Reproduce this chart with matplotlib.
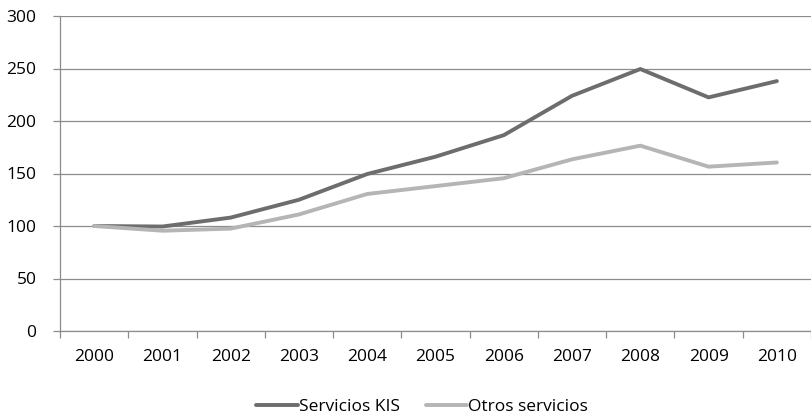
import matplotlib.pyplot as plt
import numpy as np

years = ['2000', '2001', '2002', '2003', '2004', '2005', '2006', '2007', '2008', '2009', '2010']
kis = [100, 99.5, 108, 125, 149.5, 166, 186.5, 224, 249.5, 222.5, 238]
otros = [100, 95.5, 97.5, 111, 130.5, 138, 145.5, 163.5, 176.5, 156.5, 160.5]

plt.rcParams['font.family'] = ['Open Sans', 'DejaVu Sans']

fig = plt.figure(figsize=(8.12, 4.16), dpi=100)
ax = fig.add_axes([60/812, 1-331/416, 751/812, 315/416])

x = np.arange(len(years))
ax.plot(x, kis, color='#6d6d6d', lw=2.8, label='Servicios KIS', solid_capstyle='round')
ax.plot(x, otros, color='#b5b5b5', lw=2.8, label='Otros servicios', solid_capstyle='round')

ax.set_ylim(0, 300)
ax.set_xlim(-0.5, len(years) - 0.5)
ax.set_yticks(range(0, 301, 50))
ax.yaxis.grid(True, color='#8c8c8c', lw=0.9)
ax.set_axisbelow(True)

# category boundaries get the tick marks, labels sit in the middle
ax.set_xticks(np.arange(-0.5, len(years), 1))
ax.set_xticklabels([])
ax.set_xticks(x, minor=True)
ax.set_xticklabels(years, minor=True)
ax.tick_params(axis='x', which='major', length=5, color='#8c8c8c', width=0.9)
ax.tick_params(axis='x', which='minor', length=0, pad=13, labelsize=12.5)
ax.tick_params(axis='y', length=5, color='#8c8c8c', width=0.9, labelsize=12.5, pad=12)

for s in ['top', 'right']:
    ax.spines[s].set_visible(False)
for s in ['left', 'bottom']:
    ax.spines[s].set_color('#8c8c8c')
    ax.spines[s].set_linewidth(0.9)

fig.legend(loc='center', bbox_to_anchor=(0.52, 0.022), ncol=2, frameon=False,
           fontsize=12.5, handlelength=2.4, handletextpad=0.05, columnspacing=1.5)

fig.savefig('out.png', dpi=100)
